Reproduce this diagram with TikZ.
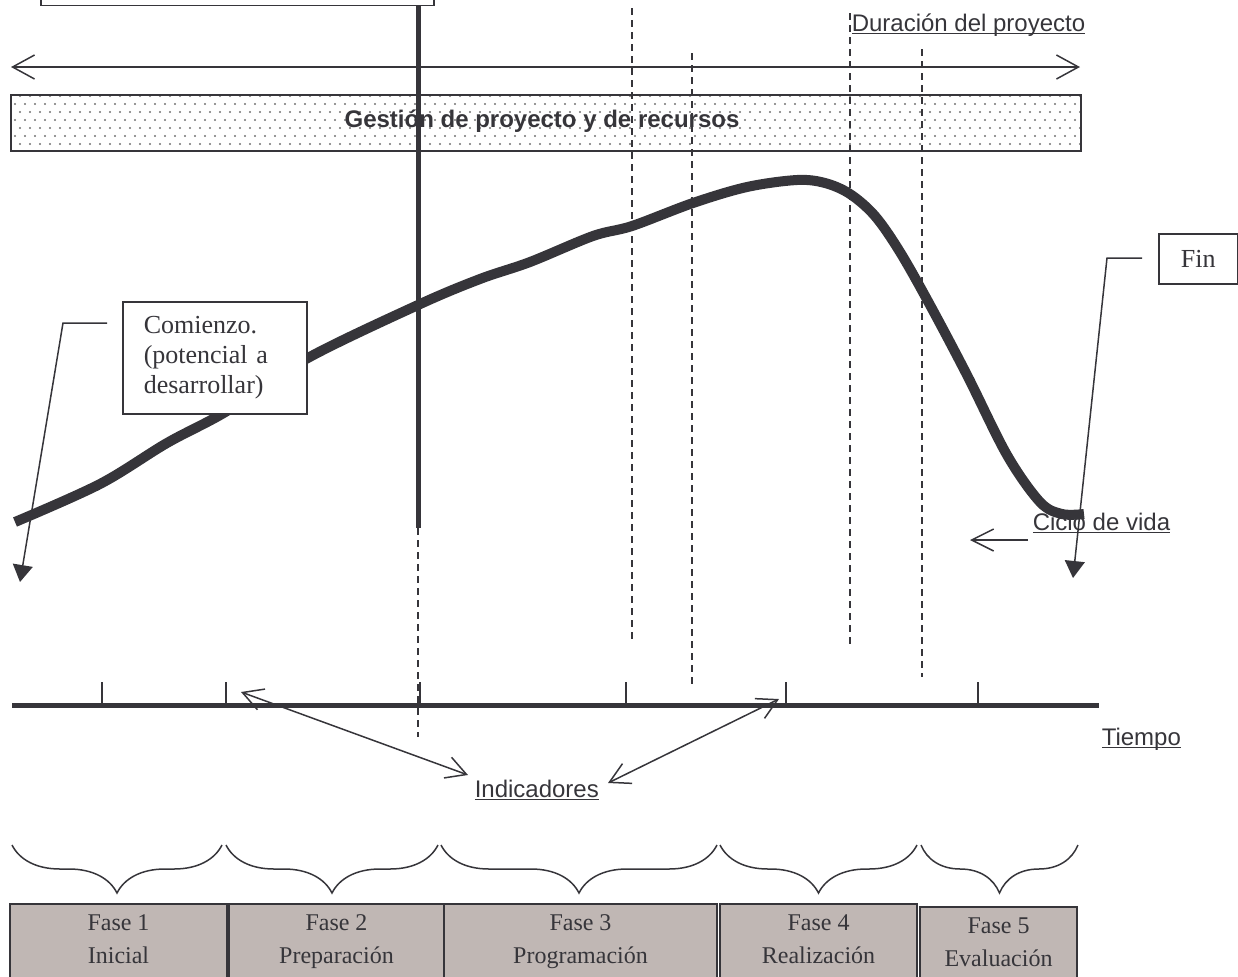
\documentclass[tikz,border=0pt]{standalone}
\usepackage{fontspec}
\setmainfont{Liberation Serif}
\setsansfont{Liberation Sans}
\usepackage{tikz}
\usetikzlibrary{arrows.meta,decorations.pathreplacing,patterns}

\definecolor{ink}{RGB}{54,53,58}
\definecolor{fasegris}{RGB}{192,183,180}
\definecolor{puntos}{RGB}{115,115,115}

\pgfdeclarepatternformonly{puntitos}{\pgfqpoint{-1pt}{-1pt}}{\pgfqpoint{6pt}{9pt}}{\pgfqpoint{5pt}{8pt}}{%
	\pgfpathcircle{\pgfqpoint{0pt}{0pt}}{0.55pt}
	\pgfpathcircle{\pgfqpoint{2.5pt}{4pt}}{0.55pt}
	\pgfusepath{fill}}

\newsavebox\ulcaja
\newcommand{\ulabel}[1]{\sbox\ulcaja{#1}\rlap{\vrule height -0.8pt depth 1.5pt width \wd\ulcaja}\usebox\ulcaja}

\begin{document}
\begin{tikzpicture}
		[x=0.5pt, y=-0.5pt, ink, line width=0.75pt,
		caja/.style={draw=ink, fill=white, line width=0.75pt, inner sep=0pt},
		serifa/.style={font=\fontsize{13}{15}\selectfont},
		sans/.style={font=\sffamily\fontsize{12}{14}\selectfont, inner sep=0pt},
		fase/.style={draw=ink, fill=fasegris, line width=1pt, anchor=north, minimum height=41pt},
		fasetxt/.style={align=center, anchor=north, inner sep=0pt, font=\fontsize{12}{16.5}\selectfont},
		guia/.style={dash pattern=on 3.5pt off 2.5pt, line width=0.6pt},
		curva/.style={line width=5pt},
		llave/.style={decorate, decoration={brace, mirror, amplitude=24pt}, line width=0.75pt},
		abierta/.style={{Straight Barb[length=10pt,width=11pt]}-{Straight Barb[length=10pt,width=11pt]}},
		flecha/.style={-{Triangle[length=8.5pt,width=10pt]}}]
		\useasboundingbox (0,0) rectangle (1238,976);
		
		% recuadro superior, cortado por el borde
		\node [caja, anchor=south west, minimum width=196.5pt, minimum height=20pt](sup) at (40,6) {};
		
		% duracion del proyecto
		\coordinate (durI) at (11,67);
		\coordinate (durD) at (1080,67);
		\draw [{Straight Barb[length=11pt,width=12pt]}-{Straight Barb[length=11pt,width=12pt]}] (durI) -- (durD);
		\node [sans, anchor=base west](dur) at (851,31) {\ulabel{Duración del proyecto}};
		
		% gestion
		\node [draw=ink, pattern=puntitos, pattern color=puntos, anchor=north west, inner sep=0pt, minimum width=535pt, minimum height=28pt](gest) at (10,94) {};
		\node [sans, font=\sffamily\bfseries\fontsize{12}{14}\selectfont](gesttxt) at (542,121) {Gestión de proyecto y de recursos};
		
		% lineas de corte
		\foreach \x/\ya/\yb in {632/8/643, 692/53/688, 850/13/647, 922/49/677}
		\draw [guia] (\x,\ya) -- (\x,\yb);
		\draw [line width=2.5pt] (418,6) -- (418,528);
		\draw [guia] (418,528) -- (418,737);
		
		% ciclo de vida
		\draw [curva] plot[smooth, tension=0.55] coordinates {(15,522) (100,484) (167,443) (227,411) (306,359) (418,305) (480,279) (530,262) (593,236) (632,226) (693,203) (747,187) (797,180) (825,183) (850,194) (875,216) (900,252) (930,305) (967,375) (1007,455) (1040,502) (1062,514) (1084,514)};
		
		\node [caja, serifa, anchor=north west, text width=71pt, inner xsep=10.5pt, minimum height=56pt, align=left](com) at (122,301) {Comienzo.\\(potencial a\\desarrollar)};
		\coordinate (comA) at (107,323);
		\coordinate (comB) at (63,323);
		\coordinate (comC) at (20,582);
		\draw [flecha] (comA) -- (comB) -- (comC);
		
		\node [caja, serifa, anchor=north west, minimum width=39.5pt, minimum height=25pt](fin) at (1158,233) {Fin};
		\coordinate (finA) at (1142,258);
		\coordinate (finB) at (1107,258);
		\coordinate (finC) at (1073,578);
		\draw [flecha] (finA) -- (finB) -- (finC);
		
		\node [sans, anchor=base west](ciclo) at (1032,530) {\ulabel{Ciclo de vida}};
		\coordinate (cicA) at (1028,540);
		\coordinate (cicB) at (970,540);
		\draw [-{Straight Barb[length=11pt,width=11pt]}] (cicA) -- (cicB);
		
		% eje de tiempo
		\coordinate (ejeI) at (12,705);
		\coordinate (ejeD) at (1099,705);
		\draw [line width=2.5pt] (ejeI) -- (ejeD);
		\foreach \x in {102, 226, 420, 626, 786, 978}
		\draw (\x,682) -- (\x,705);
		\node [sans, anchor=base west](tiempo) at (1101,745) {\ulabel{Tiempo}};
		
		\node [sans, anchor=base west](indic) at (474,797) {\ulabel{Indicadores}};
		\coordinate (indA) at (468,775);
		\coordinate (indB) at (241,692);
		\coordinate (indC) at (608,783);
		\coordinate (indD) at (779,699);
		\draw [abierta] (indA) -- (indB);
		\draw [abierta] (indC) -- (indD);
		
		% fases
		\foreach \xa/\xb in {12/222, 226/438, 441/717, 720/917, 921/1078}
		\draw [llave] (\xa,845) -- (\xb,845);
		\foreach \i/\xa/\xb/\ya/\nom in {1/10/227/903/Inicial, 2/229/444/903/Preparación, 3/444/717/903/Programación, 4/720/917/903/Realización, 5/920/1077/906/Evaluación}{
			\node [fase, minimum width={(\xb-\xa)*0.5pt}](f\i) at ({(\xa+\xb)/2},\ya) {};
			\node [fasetxt](t\i) at ({(\xa+\xb)/2},\ya+11) {Fase \i\\\nom};
		}
		
\end{tikzpicture}
\end{document}
